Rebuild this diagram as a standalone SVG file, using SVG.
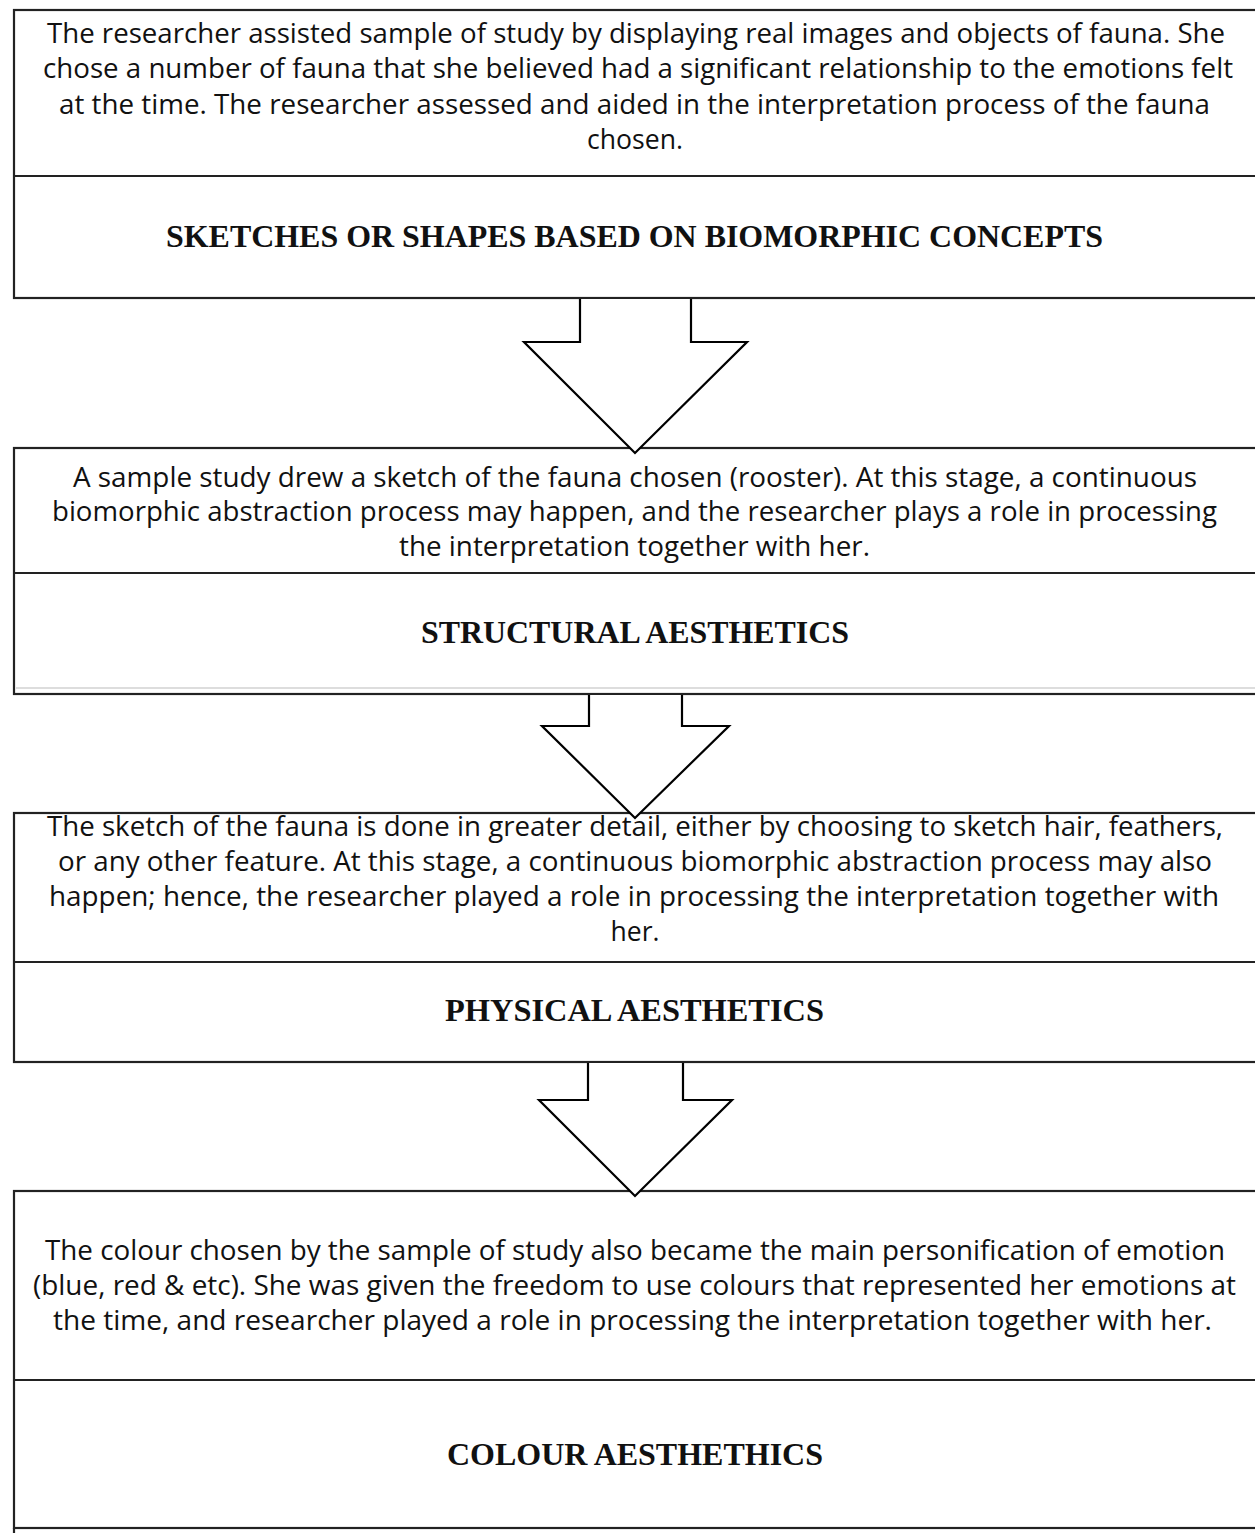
<svg xmlns="http://www.w3.org/2000/svg" width="1255" height="1533" viewBox="0 0 1255 1533">
<style>
.box{fill:#fff;stroke:#222;stroke-width:2.2}
.div{stroke:#222;stroke-width:2.2}
.arrow{fill:#fff;stroke:#000;stroke-width:2.2;stroke-linejoin:miter}
.body{font-family:"Open Sans","Liberation Sans",sans-serif;font-size:27px;fill:#111;text-anchor:middle}
.head{font-family:"Liberation Serif","Times New Roman",serif;font-size:31px;font-weight:bold;fill:#111;text-anchor:middle}
</style>
<rect width="1255" height="1533" fill="#fff"/>
<g id="node1">
<rect class="box" x="14" y="10" width="1250" height="288"/>
<line class="div" x1="14" y1="176" x2="1260" y2="176"/>
<text class="body" x="636" y="43" textLength="1178" lengthAdjust="spacingAndGlyphs">The researcher assisted sample of study by displaying real images and objects of fauna. She</text>
<text class="body" x="638" y="78" textLength="1190" lengthAdjust="spacingAndGlyphs">chose a number of fauna that she believed had a significant relationship to the emotions felt</text>
<text class="body" x="634.5" y="114" textLength="1151" lengthAdjust="spacingAndGlyphs">at the time. The researcher assessed and aided in the interpretation process of the fauna</text>
<text class="body" x="635" y="149" textLength="96" lengthAdjust="spacingAndGlyphs">chosen.</text>
<text class="head" x="634.5" y="247" textLength="937" lengthAdjust="spacingAndGlyphs">SKETCHES OR SHAPES BASED ON BIOMORPHIC CONCEPTS</text>
</g>
<g id="node2">
<rect class="box" x="14" y="448" width="1250" height="246"/>
<line class="div" x1="14" y1="573" x2="1260" y2="573"/>
<line x1="16" y1="688" x2="1260" y2="688" stroke="#ddd" stroke-width="2"/>
<text class="body" x="635" y="487" textLength="1124" lengthAdjust="spacingAndGlyphs">A sample study drew a sketch of the fauna chosen (rooster). At this stage, a continuous</text>
<text class="body" x="634.5" y="521" textLength="1165" lengthAdjust="spacingAndGlyphs">biomorphic abstraction process may happen, and the researcher plays a role in processing</text>
<text class="body" x="634.5" y="556" textLength="471" lengthAdjust="spacingAndGlyphs">the interpretation together with her.</text>
<text class="head" x="635" y="643" textLength="428" lengthAdjust="spacingAndGlyphs">STRUCTURAL AESTHETICS</text>
</g>
<g id="node3">
<rect class="box" x="14" y="813" width="1250" height="249"/>
<line class="div" x1="14" y1="962" x2="1260" y2="962"/>
<text class="body" x="635" y="836" textLength="1176" lengthAdjust="spacingAndGlyphs">The sketch of the fauna is done in greater detail, either by choosing to sketch hair, feathers,</text>
<text class="body" x="635" y="871" textLength="1154" lengthAdjust="spacingAndGlyphs">or any other feature. At this stage, a continuous biomorphic abstraction process may also</text>
<text class="body" x="634" y="906" textLength="1170" lengthAdjust="spacingAndGlyphs">happen; hence, the researcher played a role in processing the interpretation together with</text>
<text class="body" x="635" y="941" textLength="49" lengthAdjust="spacingAndGlyphs">her.</text>
<text class="head" x="634.5" y="1021" textLength="379" lengthAdjust="spacingAndGlyphs">PHYSICAL AESTHETICS</text>
</g>
<g id="node4">
<rect class="box" x="14" y="1191" width="1250" height="337"/>
<line class="div" x1="14" y1="1380" x2="1260" y2="1380"/>
<line class="div" x1="14" y1="1528" x2="14" y2="1535"/>
<text class="body" x="635" y="1260" textLength="1180" lengthAdjust="spacingAndGlyphs">The colour chosen by the sample of study also became the main personification of emotion</text>
<text class="body" x="634.5" y="1295" textLength="1203" lengthAdjust="spacingAndGlyphs">(blue, red &amp; etc). She was given the freedom to use colours that represented her emotions at</text>
<text class="body" x="632.5" y="1330" textLength="1159" lengthAdjust="spacingAndGlyphs">the time, and researcher played a role in processing the interpretation together with her.</text>
<text class="head" x="635" y="1465" textLength="376" lengthAdjust="spacingAndGlyphs">COLOUR AESTHETHICS</text>
</g>
<g id="connectors">
<polyline class="arrow" points="580,299 580,342 524,342 635,453 747,342 691,342 691,299"/>
<polyline class="arrow" points="589,695 589,726 542,726 635,818 729,726 682,726 682,695"/>
<polyline class="arrow" points="588,1063 588,1100 539,1100 635,1196 732,1100 683,1100 683,1063"/>
</g>
</svg>
